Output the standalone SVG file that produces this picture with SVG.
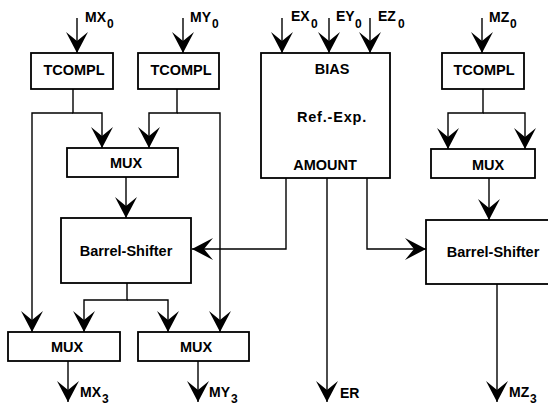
<svg xmlns="http://www.w3.org/2000/svg" width="548" height="409" viewBox="0 0 548 409">
<style>
.box{fill:#fff;stroke:#000;stroke-width:1.8}
.t{font-family:"Liberation Sans",Arial,sans-serif;font-weight:bold;font-size:14.5px;text-anchor:middle;fill:#000}
.lb{font-family:"Liberation Sans",Arial,sans-serif;font-weight:bold;font-size:14px;fill:#000}
.sb{font-family:"Liberation Sans",Arial,sans-serif;font-weight:bold;font-size:12px;fill:#000}
.c{fill:none;stroke:#000;stroke-width:1.4;marker-end:url(#ah)}
</style>
<defs>
<marker id="ah" viewBox="-22 -12 23 24" refX="0" refY="0" markerWidth="23" markerHeight="24" markerUnits="userSpaceOnUse" orient="auto">
<path d="M0,0 L-21,-11 L-12,0 L-21,11 Z" fill="#000"/>
</marker>
</defs>
<rect x="0" y="0" width="548" height="409" fill="#fff"/>
<g id="connectors">
<path class="c" d="M77,18 V53"/>
<path class="c" d="M183,18 V53"/>
<path class="c" d="M282,18 V53"/>
<path class="c" d="M329,18 V53"/>
<path class="c" d="M370,18 V53"/>
<path class="c" d="M482,18 V53"/>
<path class="c" d="M73,89 V113 H102 V148"/>
<path class="c" d="M73,113 H32 V332"/>
<path class="c" d="M177,89 V113 H149 V148"/>
<path class="c" d="M177,113 H220 V332"/>
<path class="c" d="M126,177 V218"/>
<path class="c" d="M127,283 V300 H84 V332"/>
<path class="c" d="M127,300 H168 V332"/>
<path class="c" d="M68,361 V402"/>
<path class="c" d="M198,361 V402"/>
<path class="c" d="M286,178 V249 H192"/>
<path class="c" d="M327,178 V402"/>
<path class="c" d="M367,178 V249 H426"/>
<path class="c" d="M483,89 V113 H448 V149"/>
<path class="c" d="M483,113 H525 V149"/>
<path class="c" d="M489,178 V220"/>
<path class="c" d="M497,284 V402"/>
</g>
<g id="tcompl1"><rect class="box" x="31" y="53" width="82" height="36"/><text class="t" x="74" y="75">TCOMPL</text></g>
<g id="tcompl2"><rect class="box" x="138" y="53" width="81" height="36"/><text class="t" x="181" y="75">TCOMPL</text></g>
<g id="bias"><rect class="box" x="261" y="53" width="129" height="125"/>
<text class="t" x="332" y="74">BIAS</text>
<text class="t" x="332" y="122" style="letter-spacing:0.8px">Ref.-Exp.</text>
<text class="t" x="325" y="170">AMOUNT</text></g>
<g id="tcompl3"><rect class="box" x="442" y="53" width="82" height="36"/><text class="t" x="484" y="75">TCOMPL</text></g>
<g id="mux1"><rect class="box" x="67" y="148" width="111" height="29"/><text class="t" x="126" y="168">MUX</text></g>
<g id="mux3"><rect class="box" x="431" y="149" width="104" height="29"/><text class="t" x="488" y="170">MUX</text></g>
<g id="barrel1"><rect class="box" x="61" y="218" width="130" height="65"/><text class="t" x="126" y="256">Barrel-Shifter</text></g>
<g id="barrel2"><rect class="box" x="426" y="220" width="134" height="64"/><text class="t" x="493" y="257">Barrel-Shifter</text></g>
<g id="muxL"><rect class="box" x="8" y="332" width="112" height="29"/><text class="t" x="67" y="352">MUX</text></g>
<g id="muxR"><rect class="box" x="138" y="332" width="111" height="29"/><text class="t" x="196" y="352">MUX</text></g>
<g id="labels">
<text class="lb" x="85" y="22">MX</text><text class="sb" x="107" y="28">0</text>
<text class="lb" x="190" y="22">MY</text><text class="sb" x="212" y="28">0</text>
<text class="lb" x="291" y="21">EX</text><text class="sb" x="311" y="28">0</text>
<text class="lb" x="336" y="21">EY</text><text class="sb" x="355" y="28">0</text>
<text class="lb" x="378" y="21">EZ</text><text class="sb" x="398" y="28">0</text>
<text class="lb" x="489" y="22">MZ</text><text class="sb" x="510" y="28">0</text>
<text class="lb" x="80" y="397">MX</text><text class="sb" x="102" y="403">3</text>
<text class="lb" x="209" y="397">MY</text><text class="sb" x="231" y="403">3</text>
<text class="lb" x="340" y="398">ER</text>
<text class="lb" x="509" y="397">MZ</text><text class="sb" x="530" y="403">3</text>
</g>
</svg>
